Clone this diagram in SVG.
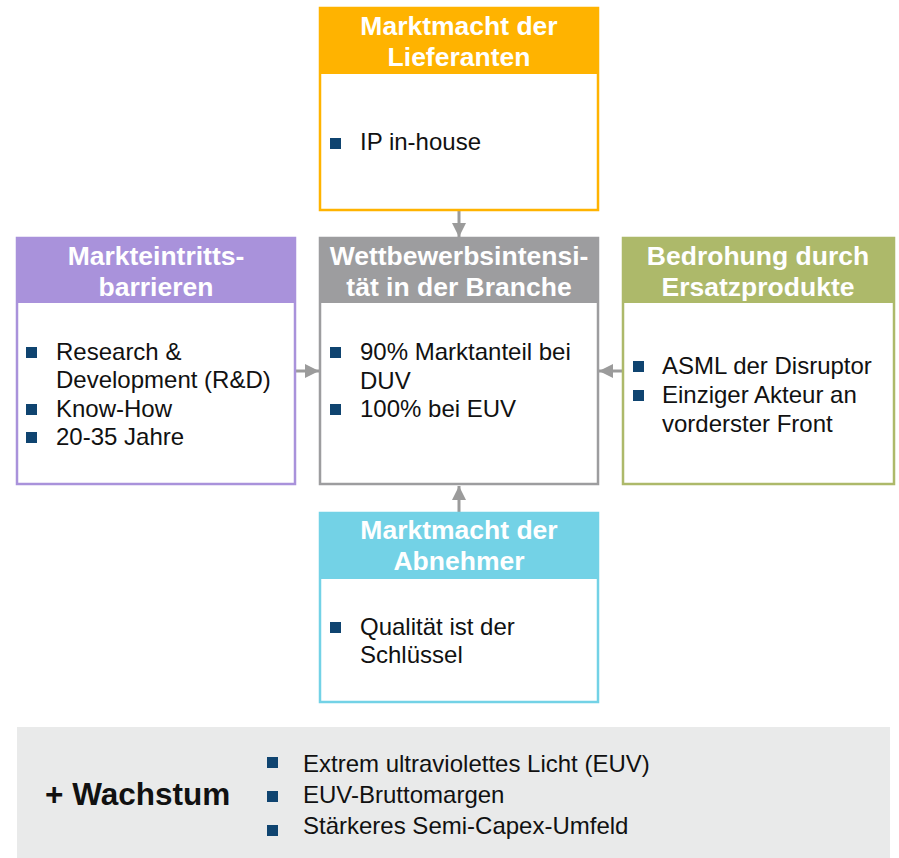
<svg xmlns="http://www.w3.org/2000/svg" width="899" height="858" viewBox="0 0 899 858">
<defs>
<style>
.hd{font-family:"Liberation Sans",Arial,sans-serif;font-weight:bold;font-size:26.5px;fill:#fff;text-anchor:middle}
.tx{font-family:"Liberation Sans",Arial,sans-serif;font-size:24px;fill:#111}
.bt{fill:#0F4470}
.conn{stroke:#9B9B9B;stroke-width:3;fill:none}
</style>
<marker id="ah" viewBox="0 0 10 10" refX="10" refY="5" markerWidth="4.8" markerHeight="4.8" markerUnits="strokeWidth" orient="auto">
<path d="M0,0 L10,5 L0,10 Z" fill="#9B9B9B"/>
</marker>
</defs>
<rect width="899" height="858" fill="#fff"/>

<g id="connectors">
<line class="conn" x1="459" y1="211" x2="459" y2="237" marker-end="url(#ah)"/>
<line class="conn" x1="296" y1="371" x2="319" y2="371" marker-end="url(#ah)"/>
<line class="conn" x1="622" y1="371" x2="599" y2="371" marker-end="url(#ah)"/>
<line class="conn" x1="459" y1="512" x2="459" y2="486" marker-end="url(#ah)"/>
</g>

<g id="lieferanten">
<rect x="320" y="8" width="278" height="202" fill="#fff" stroke="#FFB300" stroke-width="2.5"/>
<rect x="320" y="8" width="278" height="66" fill="#FFB300"/>
<text class="hd" x="459" y="35">Marktmacht der</text>
<text class="hd" x="459" y="66">Lieferanten</text>
<rect class="bt" x="330" y="138" width="11" height="11"/>
<text class="tx" x="360" y="150">IP in-house</text>
</g>

<g id="barrieren">
<rect x="17" y="238" width="278" height="246" fill="#fff" stroke="#A992DB" stroke-width="2.5"/>
<rect x="17" y="238" width="278" height="65" fill="#A992DB"/>
<text class="hd" x="156" y="265">Markteintritts-</text>
<text class="hd" x="156" y="296">barrieren</text>
<rect class="bt" x="26" y="347" width="11" height="11"/>
<rect class="bt" x="26" y="404" width="11" height="11"/>
<rect class="bt" x="26" y="432" width="11" height="11"/>
<text class="tx" x="56" y="360">Research &amp;</text>
<text class="tx" x="56" y="388">Development (R&amp;D)</text>
<text class="tx" x="56" y="417">Know-How</text>
<text class="tx" x="56" y="445">20-35 Jahre</text>
</g>

<g id="wettbewerb">
<rect x="320" y="238" width="278" height="246" fill="#fff" stroke="#9D9D9F" stroke-width="2.5"/>
<rect x="320" y="238" width="278" height="65" fill="#9D9D9F"/>
<text class="hd" x="459" y="265">Wettbewerbsintensi-</text>
<text class="hd" x="459" y="296">tät in der Branche</text>
<rect class="bt" x="330" y="347" width="11" height="11"/>
<rect class="bt" x="330" y="404" width="11" height="11"/>
<text class="tx" x="360" y="360">90% Marktanteil bei</text>
<text class="tx" x="360" y="389">DUV</text>
<text class="tx" x="360" y="417">100% bei EUV</text>
</g>

<g id="ersatz">
<rect x="623" y="238" width="271" height="246" fill="#fff" stroke="#ADB96A" stroke-width="2.5"/>
<rect x="623" y="238" width="271" height="65" fill="#ADB96A"/>
<text class="hd" x="758" y="265">Bedrohung durch</text>
<text class="hd" x="758" y="296">Ersatzprodukte</text>
<rect class="bt" x="633" y="361" width="11" height="11"/>
<rect class="bt" x="633" y="390" width="11" height="11"/>
<text class="tx" x="662" y="374">ASML der Disruptor</text>
<text class="tx" x="662" y="403">Einziger Akteur an</text>
<text class="tx" x="662" y="432">vorderster Front</text>
</g>

<g id="abnehmer">
<rect x="320" y="513" width="278" height="189" fill="#fff" stroke="#73D2E6" stroke-width="2.5"/>
<rect x="320" y="513" width="278" height="66" fill="#73D2E6"/>
<text class="hd" x="459" y="539">Marktmacht der</text>
<text class="hd" x="459" y="570">Abnehmer</text>
<rect class="bt" x="330" y="622" width="11" height="11"/>
<text class="tx" x="360" y="635">Qualität ist der</text>
<text class="tx" x="360" y="663">Schlüssel</text>
</g>

<g id="wachstum">
<rect x="17" y="727" width="873" height="131" fill="#E9EAEA"/>
<text x="45" y="805" font-family="'Liberation Sans',Arial,sans-serif" font-weight="bold" font-size="31.5px" fill="#111">+ Wachstum</text>
<rect class="bt" x="267" y="757" width="11" height="11"/>
<rect class="bt" x="267" y="791" width="11" height="11"/>
<rect class="bt" x="267" y="825" width="11" height="11"/>
<text class="tx" x="303" y="772">Extrem ultraviolettes Licht (EUV)</text>
<text class="tx" x="303" y="803">EUV-Bruttomargen</text>
<text class="tx" x="303" y="834">Stärkeres Semi-Capex-Umfeld</text>
</g>
</svg>
